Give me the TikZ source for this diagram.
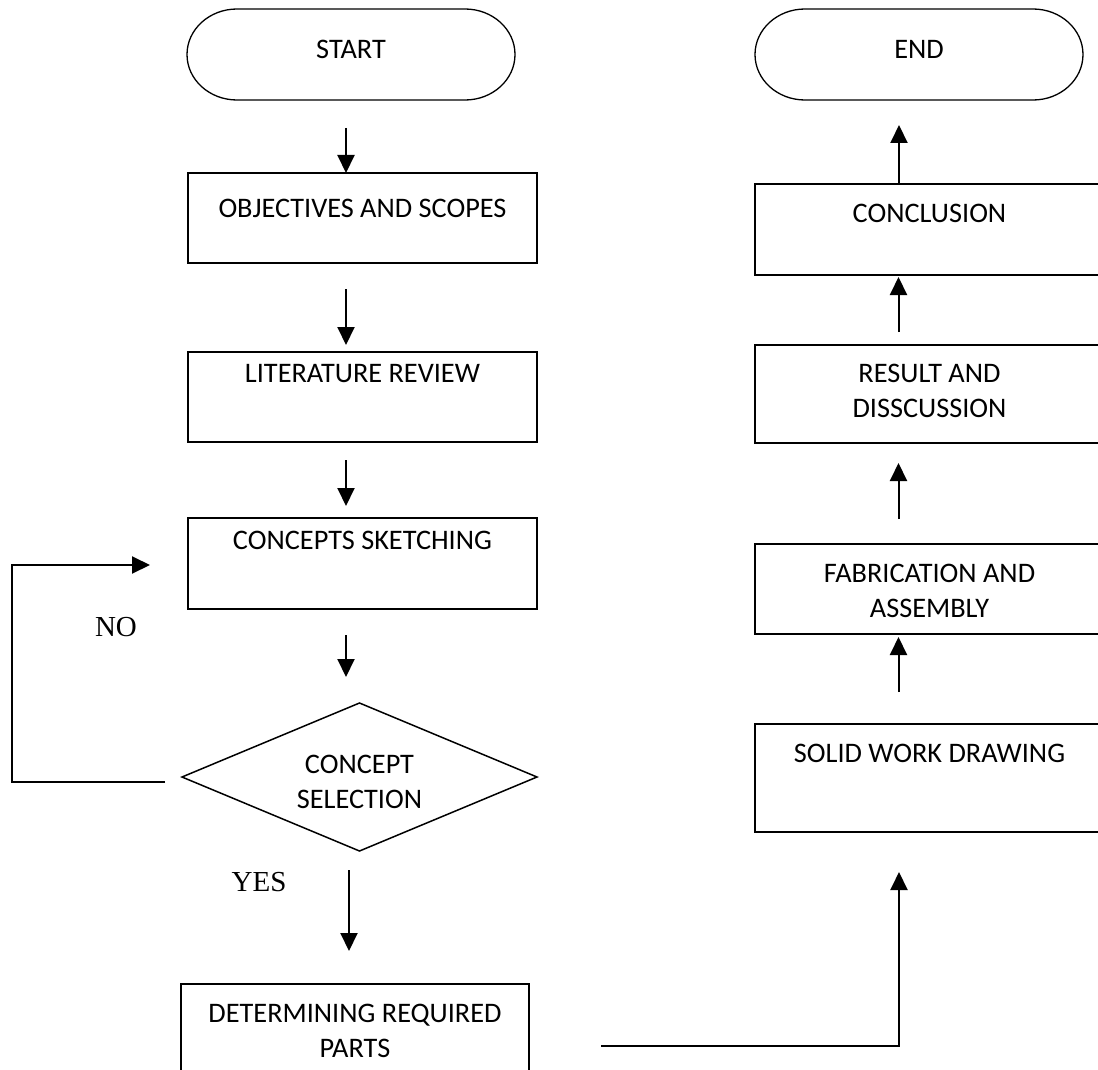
\documentclass[tikz,border=0pt]{standalone}
\usepackage{fontspec}
\setmainfont{Carlito}
\newfontfamily\notefont{Liberation Serif}
\usetikzlibrary{arrows.meta,shapes.geometric}
\newcommand{\boxfont}{\fontsize{28.3}{35}\selectfont}
\newcommand{\notesize}{\fontsize{29}{34}\selectfont}

\begin{document}
\begin{tikzpicture}[x=1pt,y=-1pt,inner sep=0pt,outer sep=0pt,
stepbox/.style={draw,rectangle,minimum width=349pt,minimum height=90pt,line width=1.5pt},
terminal/.style={rectangle,minimum width=328pt,minimum height=91pt,text depth=10pt,font=\boxfont},
termline/.style={line width=1.3pt},
decision/.style={draw,diamond,aspect=2.4,minimum width=355pt,minimum height=148pt,line width=1.5pt},
boxtext/.style={anchor=north,align=center,font=\boxfont},
note/.style={font=\notefont\notesize},
flow/.style={-{Triangle[width=17pt,length=18pt]},line width=2pt}]

\useasboundingbox (0,0) rectangle (1098,1070);
\clip (0,0) rectangle (1098,1070);

% left column
\draw (351,54.5) node[terminal] (start) {START};
\draw (362.5,218) node[stepbox] (obj) {};
\draw (362.5,397) node[stepbox] (lit) {};
\draw (362.5,563.5) node[stepbox,minimum height=91pt] (con) {};
\draw (359.5,777) node[decision] (dia) {};
\draw (355,1029) node[stepbox,minimum width=348pt] (drp) {};

% right column
\draw (919,54.5) node[terminal] (endt) {END};
\draw (929.5,229.5) node[stepbox,minimum height=91pt] (conc) {};
\draw (929.5,394) node[stepbox,minimum height=98pt] (res) {};
\draw (929.5,589) node[stepbox] (fab) {};
\draw (929.5,778) node[stepbox,minimum height=108pt] (swd) {};

% rounded ends of the terminals
\draw[termline] ([xshift=50pt]start.north west) -- ([xshift=-50pt]start.north east)
  arc[start angle=90,end angle=-90,x radius=50pt,y radius=45.5pt]
  -- ([xshift=50pt]start.south west)
  arc[start angle=270,end angle=90,x radius=50pt,y radius=45.5pt] -- cycle;
\draw[termline] ([xshift=50pt]endt.north west) -- ([xshift=-50pt]endt.north east)
  arc[start angle=90,end angle=-90,x radius=50pt,y radius=45.5pt]
  -- ([xshift=50pt]endt.south west)
  arc[start angle=270,end angle=90,x radius=50pt,y radius=45.5pt] -- cycle;

% box texts sit near the top edge
\draw (obj.north) ++(0,26) node[boxtext] (objtxt) {OBJECTIVES AND SCOPES};
\draw (lit.north) ++(0,12) node[boxtext] (littxt) {LITERATURE REVIEW};
\draw (con.north) ++(0,13) node[boxtext] (contxt) {CONCEPTS SKETCHING};
\draw (dia.north) ++(0,52) node[boxtext] (diatxt) {CONCEPT\\SELECTION};
\draw (drp.north) ++(0,20) node[boxtext] (drptxt) {DETERMINING REQUIRED\\PARTS};
\draw (conc.north) ++(0,20) node[boxtext] (conctxt) {CONCLUSION};
\draw (res.north) ++(0,19) node[boxtext] (restxt) {RESULT AND\\DISSCUSSION};
\draw (fab.north) ++(0,20) node[boxtext] (fabtxt) {FABRICATION AND\\ASSEMBLY};
\draw (swd.north) ++(0,20) node[boxtext] (swdtxt) {SOLID WORK DRAWING};

\draw (116,627) node[note] (no) {NO};
\draw (259,882) node[note] (yes) {YES};

% arrows down the left
\draw[flow] ([xshift=-5pt,yshift=-28pt]start.south) -- ([xshift=-16.5pt]obj.north);
\draw[flow] ([xshift=-16.5pt,yshift=-26pt]obj.south) -- ([xshift=-16.5pt,yshift=7pt]lit.north);
\draw[flow] ([xshift=-16.5pt,yshift=-18pt]lit.south) -- ([xshift=-16.5pt,yshift=12pt]con.north);
\draw[flow] ([xshift=-16.5pt,yshift=-26pt]con.south) -- ([xshift=-13.5pt,yshift=26pt]dia.north);
\draw[flow] ([xshift=-10.5pt,yshift=-19pt]dia.south) -- ([xshift=-6pt,yshift=33pt]drp.north);
\draw[flow] ([xshift=-17pt,yshift=-5pt]dia.west) -- ++(-153,0) |- ([xshift=-38pt,yshift=-1.5pt]con.west);

% across and up the right
\draw[flow] ([xshift=72pt,yshift=-17pt]drp.east) -| ([xshift=-30.5pt,yshift=-40pt]swd.south);
\draw[flow] ([xshift=-31pt,yshift=32pt]swd.north) -- ([xshift=-31pt,yshift=-3pt]fab.south);
\draw[flow] ([xshift=-31pt,yshift=25pt]fab.north) -- ([xshift=-31pt,yshift=-20pt]res.south);
\draw[flow] ([xshift=-31pt,yshift=13pt]res.north) -- ([xshift=-31pt,yshift=-2pt]conc.south);
\draw[flow] ([xshift=-30.5pt]conc.north) -- ([xshift=-20pt,yshift=-25pt]endt.south);
\end{tikzpicture}
\end{document}
